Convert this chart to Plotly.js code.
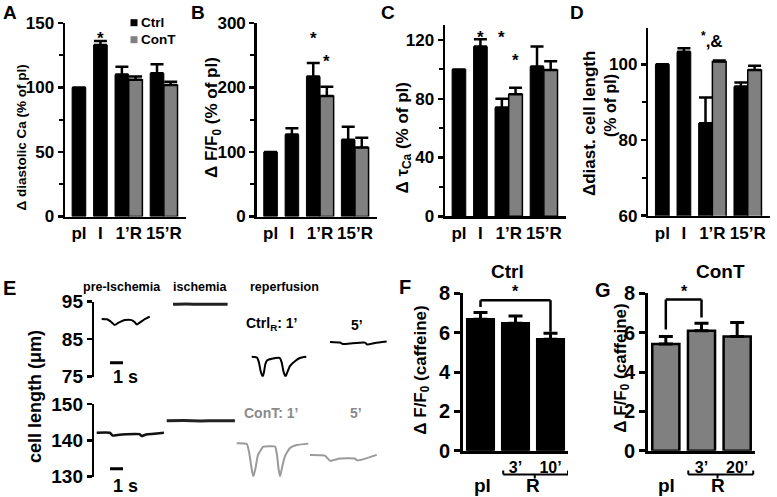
<!DOCTYPE html>
<html>
<head>
<meta charset="utf-8">
<script src="https://cdn.plot.ly/plotly-3.0.1.min.js"></script>
<style>
    html, body { margin: 0; padding: 0; background: #fff; }
    #chart { width: 777px; height: 497px; }
</style>
</head>
<body>
<div id="chart"></div>
<script>
// ---------- Data: top row, % of pre-ischemia (pl) ---------- //
const groups = ['pl', 'I', '1’R', '15’R'];
const groupSize = [1, 1, 2, 2]; // pl and I only have Ctrl

const diastCaCtrl = [100, 133, 110, 111];
const diastCaCtrlErr = [null, 3, 6, 7];
const diastCaConT = [null, null, 106, 102];
const diastCaConTErr = [null, null, 2.5, 2.5];

const ampCtrl = [100, 127, 217, 119];
const ampCtrlErr = [null, 10, 21, 20];
const ampConT = [null, null, 187, 107];
const ampConTErr = [null, null, 14, 15];

const tauCtrl = [100, 115.5, 74, 102];
const tauCtrlErr = [null, 5, 6, 13.5];
const tauConT = [null, null, 83, 99.5];
const tauConTErr = [null, null, 4.5, 6];

const lenCtrl = [100, 103.3, 84.4, 94.1];
const lenCtrlErr = [null, 0.9, 6.8, 1.1];
const lenConT = [null, null, 100.7, 98.5];
const lenConTErr = [null, null, 0.3, 1.1];

// ---------- Data: E, cell length traces (s, µm) ---------- //
const preCtrlT = [0, 0.4, 0.7, 1.0, 1.3, 1.8, 2.3, 2.55, 2.7, 3.0, 3.35, 3.7];
const preCtrlL = [90.4, 90.3, 89.7, 88.8, 89.4, 90.1, 90.1, 89.5, 88.9, 89.6, 90.4, 91.0];
const ischCtrlT = [0, 1, 2, 3, 4.2];
const ischCtrlL = [94.3, 94.4, 94.3, 94.35, 94.3];
const rep1CtrlT = [0, 0.4, 0.55, 0.7, 0.85, 0.95, 1.05, 1.2, 1.55, 2.15, 2.3, 2.45, 2.6, 2.75, 2.95, 3.35, 3.7, 4.2];
const rep1CtrlL = [80.3, 80.1, 78.9, 76.3, 75.0, 76.3, 78.4, 79.4, 79.8, 80.0, 78.9, 76.3, 75.0, 76.3, 77.9, 79.2, 80.0, 80.3];
const rep5CtrlT = [0, 0.77, 1.0, 1.54, 2.69, 2.85, 3.46, 4.36];
const rep5CtrlL = [84.25, 84.1, 83.7, 83.85, 84.1, 83.6, 84.0, 84.4];

const preConTT = [0, 1.0, 1.25, 1.6, 2.3, 3.3, 3.45, 3.8, 5.17];
const preConTL = [142.1, 142.1, 141.3, 141.5, 141.7, 141.7, 141.2, 141.6, 142.1];
const ischConTT = [0, 1.3, 2.6, 3.9, 5.25];
const ischConTL = [145.4, 145.45, 145.35, 145.4, 145.4];
const rep1ConTT = [0, 0.77, 0.95, 1.14, 1.28, 1.45, 1.64, 2.05, 2.56, 2.95, 3.1, 3.21, 3.33, 3.48, 3.72, 4.1, 4.62, 5.51];
const rep1ConTL = [139.2, 139.0, 136.8, 132.4, 130.0, 132.4, 136.0, 138.25, 138.4, 138.3, 136.0, 132.4, 130.0, 132.4, 135.7, 137.9, 138.7, 139.1];
const rep5ConTT = [0, 1.15, 1.54, 2.3, 3.46, 3.62, 4.2, 5.13];
const rep5ConTL = [136.0, 135.8, 134.4, 135.0, 135.0, 134.5, 134.9, 136.0];

// ---------- Data: F and G, caffeine transients ---------- //
const ctrlCafCats = ['pl', '3’', '10’'];
const ctrlCaf = [6.68, 6.48, 5.66];
const ctrlCafErr = [0.34, 0.37, 0.31];
const contCafCats = ['pl', '3’', '20’'];
const contCaf = [5.42, 6.1, 5.8];
const contCafErr = [0.38, 0.38, 0.71];

// ---------- Helpers ---------- //
const W = 777, H = 497;
const px = (a, b) => [a / W, b / W];
const py = (top, bottom) => [1 - bottom / H, 1 - top / H];
const X = v => v / W;
const Y = v => 1 - v / H;

const SANS = '"Liberation Sans", Arial, Helvetica, sans-serif';
const BLACK = '#000000';
const GREY = '#808080';
const TEXT_GREY = '#8a8a8a';
const TRACE_GREY = '#9a9a9a';

// bar slots: each bar takes one slot, groups separated by a gap
const GAP = 0.57;
const centers = [];
let slot = 0;
groupSize.forEach(n => { centers.push(slot + n / 2); slot += n + GAP; });
const ctrlX = centers.map((c, i) => c - (groupSize[i] - 1) / 2);
const contX = centers.map((c, i) => groupSize[i] > 1 ? c + 0.5 : null);
const slotRange = [-0.52, slot - GAP + 0.62];

const traces = [];
const annotations = [];
const shapes = [];
const layout = {
    width: W, height: H,
    margin: { l: 0, r: 0, t: 0, b: 0 },
    paper_bgcolor: '#ffffff',
    plot_bgcolor: 'rgba(0,0,0,0)',
    barmode: 'overlay',
    showlegend: false,
    font: { family: SANS, color: BLACK },
};

function errBar(arr) {
    return {
        type: 'data', symmetric: false, array: arr, arrayminus: arr.map(() => 0),
        color: BLACK, thickness: 2.5, width: 6.5,
    };
}

function addLabel(text, x, y, size, opts = {}) {
    annotations.push(Object.assign({
        text, x: X(x), y: Y(y), xref: 'paper', yref: 'paper',
        showarrow: false, xanchor: 'center', yanchor: 'middle',
        font: { family: SANS, size, weight: 700, color: opts.color || BLACK },
    }, opts));
}

// ---------- Top row panels A-D ---------- //
function topPanel(id, xDom, yDom, yRange, dtick, minorDtick, ctrl, ctrlErr, cont, contErr) {
    const xa = 'x' + id, ya = 'y' + id;
    traces.push({
        type: 'bar', name: 'Ctrl', x: ctrlX, y: ctrl, xaxis: xa, yaxis: ya,
        width: 1, marker: { color: BLACK, line: { color: BLACK, width: 1 } },
        error_y: errBar(ctrlErr),
    });
    traces.push({
        type: 'bar', name: 'ConT', x: contX, y: cont, xaxis: xa, yaxis: ya,
        width: 1, marker: { color: GREY, line: { color: BLACK, width: 1.5 } },
        error_y: errBar(contErr),
    });
    layout['xaxis' + id] = {
        domain: xDom, range: slotRange, anchor: ya,
        showline: true, linewidth: 2.5, linecolor: BLACK,
        ticks: '', showgrid: false, zeroline: false, tickangle: 0,
        tickvals: centers, ticktext: groups,
        tickfont: { family: SANS, size: 17, weight: 700, color: BLACK },
    };
    layout['yaxis' + id] = {
        domain: yDom, range: yRange, anchor: xa,
        showline: true, linewidth: 2.5, linecolor: BLACK,
        ticks: 'outside', ticklen: 5, tickwidth: 2.5, tickcolor: BLACK,
        dtick: dtick, tick0: yRange[0],
        minor: { dtick: minorDtick, ticks: 'outside', ticklen: 4, tickwidth: 2, tickcolor: BLACK },
        showgrid: false, zeroline: false,
        tickfont: { family: SANS, size: 17, weight: 700, color: BLACK },
    };
}

topPanel('', px(65, 186), py(23, 216.5), [0, 150], 50, 25,
    diastCaCtrl, diastCaCtrlErr, diastCaConT, diastCaConTErr);
topPanel('2', px(256.7, 377), py(23, 216.5), [0, 300], 100, 50,
    ampCtrl, ampCtrlErr, ampConT, ampConTErr);
topPanel('3', px(445, 566), py(25.3, 216.3), [0, 130], 40, 20,
    tauCtrl, tauCtrlErr, tauConT, tauConTErr);
topPanel('4', px(648.3, 770), py(28.3, 215.7), [60, 109.5], 20, 10,
    lenCtrl, lenCtrlErr, lenConT, lenConTErr);

// legend of panel A
[['Ctrl', BLACK, 22.7], ['ConT', GREY, 39.7]].forEach(([name, color, yc]) => {
    shapes.push({
        type: 'rect', xref: 'paper', yref: 'paper',
        x0: X(130.5), x1: X(137.5), y0: Y(yc + 3.5), y1: Y(yc - 3.5),
        fillcolor: color, line: { color: color, width: 0 },
    });
    addLabel(name, 139, yc, 13.5, { xanchor: 'left' });
});

// significance stars (data coords)
function star(text, axisId, x, y) {
    annotations.push({
        text, x, y, xref: 'x' + axisId, yref: 'y' + axisId,
        showarrow: false, xanchor: 'center', yanchor: 'middle',
        font: { family: SANS, size: 17, weight: 700, color: BLACK },
    });
}
star('*', '', ctrlX[1], 138);
star('*', '2', ctrlX[2], 276);
star('*', '2', contX[2], 240);
star('*', '3', ctrlX[1], 122);
star('*', '3', ctrlX[2], 122);
star('*', '3', contX[2], 106);
star('<sup>*</sup>,&', '4', centers[2], 106.5);

addLabel('A', 10, 12, 19);
addLabel('B', 198, 12, 19);
addLabel('C', 388, 12, 19);
addLabel('D', 577, 12, 19);

addLabel('Δ diastolic Ca (% of pl)', 21, 137.5, 13.5, { textangle: -90 });
addLabel('Δ F/F<sub>0</sub> (% of pl)', 213, 118, 17, { textangle: -90 });
addLabel('Δ τ<sub>Ca</sub> (% of pl)', 403, 137.5, 17, { textangle: -90 });
addLabel('Δdiast. cell length', 590, 124, 17, { textangle: -90 });
addLabel('(% of pl)', 610, 106, 16, { textangle: -90 });

// ---------- Panel E: cell length recordings ---------- //
const E_LEFT = 94.3, E_RIGHT = 420, PX_PER_S = 13;
const recordings = [
    { t: preCtrlT, L: preCtrlL, at: 101.7, y: 'y7', color: BLACK, w: 2 },
    { t: ischCtrlT, L: ischCtrlL, at: 173, y: 'y7', color: '#222222', w: 3 },
    { t: rep1CtrlT, L: rep1CtrlL, at: 251.7, y: 'y7', color: BLACK, w: 2 },
    { t: rep5CtrlT, L: rep5CtrlL, at: 330, y: 'y7', color: BLACK, w: 2 },
    { t: preConTT, L: preConTL, at: 96.7, y: 'y8', color: '#111111', w: 2.5 },
    { t: ischConTT, L: ischConTL, at: 166.7, y: 'y8', color: '#222222', w: 3 },
    { t: rep1ConTT, L: rep1ConTL, at: 236.7, y: 'y8', color: TRACE_GREY, w: 2 },
    { t: rep5ConTT, L: rep5ConTL, at: 310, y: 'y8', color: TRACE_GREY, w: 2 },
];
recordings.forEach(r => {
    const off = (r.at - E_LEFT) / PX_PER_S;
    traces.push({
        type: 'scatter', mode: 'lines', x: r.t.map(t => t + off), y: r.L,
        xaxis: 'x7', yaxis: r.y, hoverinfo: 'skip',
        line: { color: r.color, width: r.w, shape: 'spline', smoothing: 0.5 },
    });
});

layout.xaxis7 = {
    domain: px(E_LEFT, E_RIGHT), range: [0, (E_RIGHT - E_LEFT) / PX_PER_S],
    anchor: 'y8', visible: false,
};
const eAxis = {
    anchor: 'x7', showline: true, linewidth: 2.5, linecolor: BLACK,
    ticks: 'outside', ticklen: 5, tickwidth: 2.5, tickcolor: BLACK,
    showgrid: false, zeroline: false,
    tickfont: { family: SANS, size: 19, weight: 700, color: BLACK },
};
layout.yaxis7 = Object.assign({}, eAxis, { domain: py(301.7, 376.7), range: [75, 95], tickvals: [75, 85, 95] });
layout.yaxis8 = Object.assign({}, eAxis, { domain: py(404, 476.7), range: [130, 150], tickvals: [130, 140, 150] });

// 1 s scale bars
const sbStart = (110 - E_LEFT) / PX_PER_S;
shapes.push({ type: 'line', xref: 'x7', yref: 'y7', x0: sbStart, x1: sbStart + 1, y0: 78.7, y1: 78.7, line: { color: BLACK, width: 3 } });
shapes.push({ type: 'line', xref: 'x7', yref: 'y8', x0: sbStart, x1: sbStart + 1, y0: 132.2, y1: 132.2, line: { color: BLACK, width: 3 } });
addLabel('1 s', 111, 377, 18, { xanchor: 'left' });
addLabel('1 s', 111, 486, 18, { xanchor: 'left' });

addLabel('E', 9, 288, 20);
addLabel('pre-Ischemia', 122, 287, 12.5);
addLabel('ischemia', 200, 287, 12.5);
addLabel('reperfusion', 284, 287, 12.5);
addLabel('Ctrl<sub>R</sub>: 1’', 271, 324, 14);
addLabel('5’', 357, 325, 14);
addLabel('ConT: 1’', 271, 413, 14, { color: TEXT_GREY });
addLabel('5’', 356, 413, 14, { color: TEXT_GREY });
addLabel('cell length (μm)', 35, 397, 18, { textangle: -90 });

// ---------- Panels F and G: caffeine ---------- //
function cafPanel(id, xDom, cats, vals, errs, color, tickText) {
    const xa = 'x' + id, ya = 'y' + id;
    traces.push({
        type: 'bar', x: cats, y: vals, xaxis: xa, yaxis: ya, width: 0.76,
        marker: { color: color, line: { color: BLACK, width: 2.5 } },
        error_y: Object.assign(errBar(errs), { thickness: 3, width: 7 }),
    });
    layout['xaxis' + id] = {
        domain: xDom, range: [-0.5, 2.5], anchor: ya, type: 'category',
        categoryorder: 'array', categoryarray: cats,
        showline: true, linewidth: 3, linecolor: BLACK, ticks: '', tickangle: 0,
        tickvals: cats, ticktext: tickText, showgrid: false, zeroline: false,
        tickfont: { family: SANS, size: 16, weight: 700, color: BLACK },
    };
    layout['yaxis' + id] = {
        domain: py(293.3, 450.7), range: [0, 8], anchor: xa, dtick: 2,
        showline: true, linewidth: 3, linecolor: BLACK,
        ticks: 'outside', ticklen: 6, tickwidth: 3, tickcolor: BLACK,
        showgrid: false, zeroline: false,
        tickfont: { family: SANS, size: 20, weight: 700, color: BLACK },
    };
}
cafPanel('5', px(463, 568), ctrlCafCats, ctrlCaf, ctrlCafErr, BLACK, ['', '3’', '10’']);
cafPanel('6', px(648, 755), contCafCats, contCaf, contCafErr, GREY, ['', '3’', '20’']);

// significance brackets (data coords)
function sigBracket(id, i0, i1, top, foot0, foot1) {
    const ref = { xref: 'x' + id, yref: 'y' + id, type: 'line', line: { color: BLACK, width: 2.5 } };
    shapes.push(Object.assign({ x0: i0, x1: i0, y0: foot0, y1: top }, ref));
    shapes.push(Object.assign({ x0: i0, x1: i1, y0: top, y1: top }, ref));
    shapes.push(Object.assign({ x0: i1, x1: i1, y0: top, y1: foot1 }, ref));
}
sigBracket('5', 0, 2, 7.65, 7.31, 6.05);
sigBracket('6', 0, 1, 7.69, 6.16, 6.77);

// "R" reperfusion brackets under the axis
function rBracket(id, i0, i1, mid) {
    const ref = { xref: 'x' + id, yref: 'paper', type: 'line', line: { color: BLACK, width: 2 } };
    const yb = 474.5;
    shapes.push(Object.assign({ x0: i0, x1: i1, y0: Y(yb), y1: Y(yb) }, ref));
    shapes.push(Object.assign({ x0: i0, x1: i0, y0: Y(yb), y1: Y(yb - 4) }, ref));
    shapes.push(Object.assign({ x0: i1, x1: i1, y0: Y(yb), y1: Y(yb - 4) }, ref));
    shapes.push(Object.assign({ x0: mid, x1: mid, y0: Y(yb), y1: Y(yb + 4) }, ref));
}
rBracket('5', 0.65, 2.5, 1.55);
rBracket('6', 0.63, 2.45, 1.45);

addLabel('F', 405, 287, 20);
addLabel('G', 603, 290, 20);
addLabel('Ctrl', 508, 271, 19);
addLabel('ConT', 720, 271, 19);
addLabel('*', 515, 291, 16);
addLabel('*', 684, 291, 16);
addLabel('Δ F/F<sub>0</sub> (caffeine)', 421.7, 370, 17, { textangle: -90 });
addLabel('Δ F/F<sub>0</sub> (caffeine)', 621.7, 368, 17, { textangle: -90 });
addLabel('pl', 482.5, 485, 19);
addLabel('R', 533, 485, 19);
addLabel('pl', 666.7, 485, 19);
addLabel('R', 717.5, 485, 19);

layout.annotations = annotations;
layout.shapes = shapes;

Plotly.newPlot('chart', traces, layout, { displayModeBar: false, staticPlot: true });
</script>
</body>
</html>
